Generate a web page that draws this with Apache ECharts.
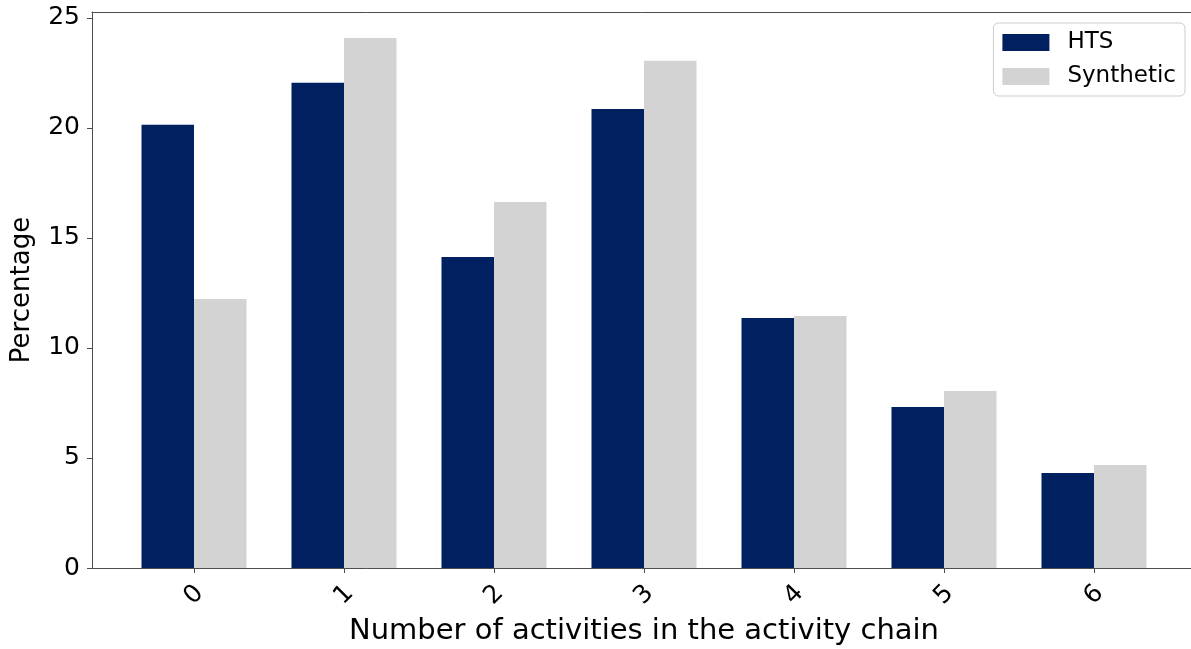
<!DOCTYPE html>
<html>
<head>
<meta charset="utf-8">
<title>Number of activities in the activity chain</title>
<script src="https://cdn.jsdelivr.net/npm/echarts@6/dist/echarts.min.js"></script>
<style>
  html, body { margin: 0; padding: 0; background: #fff; }
  #chart { width: 1191px; height: 649px; }
</style>
</head>
<body>
<div id="chart"></div>
<script>
// Share of persons by number of activities in their daily chain
const categories = [0, 1, 2, 3, 4, 5, 6];
const htsValues = [20.14, 22.05, 14.14, 20.86, 11.36, 7.32, 4.32];
const syntheticValues = [12.23, 24.09, 16.64, 23.05, 11.45, 8.05, 4.68];
const yTickValues = [0, 5, 10, 15, 20, 25];
const seriesNames = ['HTS', 'Synthetic'];

const FONT = '"DejaVu Sans", "Liberation Sans", sans-serif';
const SPINE = '#4d4d4d';

const chart = echarts.init(document.getElementById('chart'), null, { renderer: 'canvas' });

chart.setOption({
  animation: false,
  backgroundColor: '#ffffff',
  // plot frame runs slightly past the right edge of the canvas
  grid: { left: 92, right: -5, top: 12, bottom: 81, outerBoundsMode: 'none', containLabel: false },
  legend: {
    data: seriesNames,
    orient: 'vertical',
    right: 6,
    top: 23,
    padding: [8, 9, 8, 9],
    itemWidth: 47,
    itemHeight: 17,
    itemGap: 11,
    icon: 'rect',
    borderColor: '#cccccc',
    borderWidth: 1,
    borderRadius: 5,
    backgroundColor: '#ffffff',
    textStyle: { fontFamily: FONT, fontSize: 23, color: '#000', lineHeight: 23, padding: [0, 0, 0, 13] }
  },
  xAxis: [
    {
      type: 'value',
      min: -0.68,
      max: 6.68,
      splitLine: { show: false },
      axisLine: { show: true, onZero: false, lineStyle: { color: SPINE, width: 1 } },
      axisTick: { show: true, length: 5, customValues: categories, lineStyle: { color: SPINE } },
      axisLabel: {
        customValues: categories,
        rotate: 45,
        align: 'center',
        verticalAlign: 'middle',
        margin: 27,
        fontFamily: FONT,
        fontSize: 25,
        color: '#000'
      },
      name: 'Number of activities in the activity chain',
      nameLocation: 'middle',
      nameGap: 44,
      nameTextStyle: { fontFamily: FONT, fontSize: 29, color: '#000' }
    },
    {
      // top frame line
      type: 'value',
      position: 'top',
      min: -0.68,
      max: 6.68,
      splitLine: { show: false },
      axisLine: { show: true, onZero: false, lineStyle: { color: SPINE, width: 1 } },
      axisTick: { show: false },
      axisLabel: { show: false }
    }
  ],
  yAxis: {
    type: 'value',
    min: 0,
    max: 25.27,
    splitLine: { show: false },
    axisLine: { show: true, onZero: false, lineStyle: { color: SPINE, width: 1 } },
    axisTick: { show: true, length: 5, customValues: yTickValues, lineStyle: { color: SPINE } },
    axisLabel: {
      customValues: yTickValues,
      margin: 12,
      fontFamily: FONT,
      fontSize: 25,
      color: '#000'
    },
    name: 'Percentage',
    nameLocation: 'middle',
    nameGap: 57,
    nameRotate: 90,
    nameTextStyle: { fontFamily: FONT, fontSize: 26, color: '#000' }
  },
  series: [
    {
      name: seriesNames[0],
      type: 'bar',
      xAxisIndex: 0,
      barWidth: 52.5,
      barGap: '0%',
      itemStyle: { color: '#002060' },
      data: categories.map((c, i) => [c, htsValues[i]])
    },
    {
      name: seriesNames[1],
      type: 'bar',
      xAxisIndex: 0,
      barWidth: 52.5,
      barGap: '0%',
      itemStyle: { color: '#d3d3d3' },
      data: categories.map((c, i) => [c, syntheticValues[i]])
    }
  ]
});
</script>
</body>
</html>
